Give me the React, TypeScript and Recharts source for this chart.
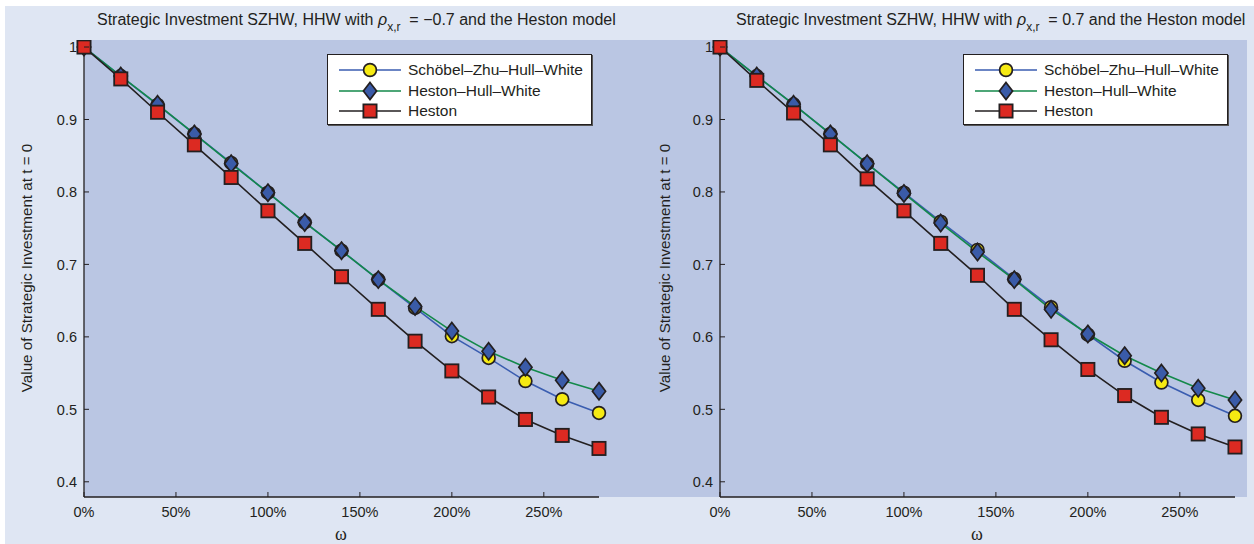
import React from 'react';
import { LineChart, Line, XAxis, YAxis, Legend } from 'recharts';

// omega values (fraction, 0..280%)
const omega = [0, 0.2, 0.4, 0.6, 0.8, 1.0, 1.2, 1.4, 1.6, 1.8, 2.0, 2.2, 2.4, 2.6, 2.8];

// rho_{x,r} = -0.7
const szhwNeg = [1.0, 0.96, 0.92, 0.88, 0.84, 0.799, 0.758, 0.719, 0.679, 0.64, 0.601, 0.571, 0.539, 0.514, 0.495];
const hhwNeg = [1.0, 0.96, 0.921, 0.88, 0.839, 0.799, 0.758, 0.719, 0.679, 0.642, 0.608, 0.58, 0.558, 0.54, 0.525];
const hestonNeg = [1.0, 0.956, 0.91, 0.865, 0.82, 0.774, 0.729, 0.683, 0.638, 0.594, 0.553, 0.517, 0.486, 0.464, 0.446];

// rho_{x,r} = 0.7
const szhwPos = [1.0, 0.96, 0.921, 0.88, 0.839, 0.799, 0.759, 0.72, 0.68, 0.641, 0.603, 0.567, 0.537, 0.513, 0.491];
const hhwPos = [1.0, 0.96, 0.921, 0.88, 0.839, 0.798, 0.757, 0.717, 0.679, 0.638, 0.604, 0.574, 0.55, 0.529, 0.513];
const hestonPos = [1.0, 0.954, 0.909, 0.865, 0.818, 0.774, 0.729, 0.685, 0.638, 0.596, 0.555, 0.519, 0.489, 0.466, 0.448];

const xTicks = [0, 0.5, 1, 1.5, 2, 2.5];
const yTicks = [0.4, 0.5, 0.6, 0.7, 0.8, 0.9, 1];
const keys = ['szhw', 'hhw', 'heston'];
const names = ['Schöbel–Zhu–Hull–White', 'Heston–Hull–White', 'Heston'];

const INK = '#231f20';
const FONT = '"Liberation Sans", Arial, Helvetica, sans-serif';
const LIGHT = '#dfe6f3';
const PLOT = '#bac6e3';

const buildRows = (a: number[], b: number[], c: number[]) =>
  omega.map((w, i) => ({ w, szhw: a[i], hhw: b[i], heston: c[i] }));

const rowsNeg = buildRows(szhwNeg, hhwNeg, hestonNeg);
const rowsPos = buildRows(szhwPos, hhwPos, hestonPos);

const styles: Record<string, { line: string; kind: string }> = {
  szhw: { line: '#3a5db0', kind: 'circle' },
  hhw: { line: '#13894a', kind: 'diamond' },
  heston: { line: INK, kind: 'square' },
};

function Marker({ kind, cx, cy }: { kind: string; cx: number; cy: number }) {
  if (kind === 'circle')
    return <circle cx={cx} cy={cy} r={6.4} fill="#f6ea12" stroke={INK} strokeWidth={1.7} />;
  if (kind === 'diamond')
    return (
      <polygon
        points={`${cx},${cy - 8.6} ${cx + 6.6},${cy} ${cx},${cy + 8.6} ${cx - 6.6},${cy}`}
        fill="#3a5ba8"
        stroke={INK}
        strokeWidth={1.7}
      />
    );
  return <rect x={cx - 6.6} y={cy - 6.6} width={13.2} height={13.2} fill="#dc2a22" stroke={INK} strokeWidth={1.8} />;
}

const YTick = ({ x, y, payload }: any) => (
  <g>
    <line x1={x} x2={x + 5} y1={y} y2={y} stroke={INK} strokeWidth={1} />
    <text x={x - 7} y={y} dy="0.36em" textAnchor="end" fontSize={14.5} fontFamily={FONT} fill={INK}>
      {payload.value === 1 ? '1' : payload.value.toFixed(1)}
    </text>
  </g>
);

const XTick = ({ x, y, payload }: any) => (
  <g>
    <line x1={x} x2={x} y1={y} y2={y - 5} stroke={INK} strokeWidth={1} />
    <text x={x} y={y + 15} dy="0.36em" textAnchor="middle" fontSize={14.5} fontFamily={FONT} fill={INK}>
      {`${Math.round(payload.value * 100)}%`}
    </text>
  </g>
);

const LegendBox = ({ payload }: any) => {
  const items = [...(payload || [])].sort((a: any, b: any) => keys.indexOf(a.dataKey) - keys.indexOf(b.dataKey));
  return (
    <div
      style={{
        width: 265,
        height: 71,
        background: '#fff',
        border: `1.5px solid ${INK}`,
        boxShadow: '1px 1px 0 #555',
        boxSizing: 'border-box',
        paddingTop: 5,
        fontFamily: FONT,
        fontSize: 15.5,
        color: INK,
      }}
    >
      {items.map((entry: any) => {
        const s = styles[entry.dataKey];
        return (
          <div key={entry.dataKey} style={{ display: 'flex', alignItems: 'center', height: 20.5 }}>
            <svg width={80} height={20} style={{ flex: 'none' }}>
              <line x1={11} x2={73} y1={10} y2={10} stroke={s.line} strokeWidth={1.6} />
              <Marker kind={s.kind} cx={42} cy={10} />
            </svg>
            <span style={{ whiteSpace: 'nowrap' }}>{entry.value}</span>
          </div>
        );
      })}
    </div>
  );
};

function Panel({ rows, left, width }: { rows: any[]; left: number; width: number }) {
  return (
    <div style={{ position: 'absolute', left, top: 0 }}>
      <LineChart width={width} height={544} data={rows} margin={{ top: 40, right: width - 599, left: 24, bottom: 0 }}>
        <XAxis
          dataKey="w"
          type="number"
          domain={[0, 2.8]}
          ticks={xTicks}
          height={47}
          tickSize={0}
          tickMargin={0}
          tickLine={false}
          tick={<XTick />}
          axisLine={{ stroke: INK, strokeWidth: 1.3 }}
          interval={0}
        />
        <YAxis
          type="number"
          domain={[0.379, 1.0097]}
          ticks={yTicks}
          width={60}
          tickSize={0}
          tickMargin={0}
          tickLine={false}
          tick={<YTick />}
          axisLine={{ stroke: INK, strokeWidth: 1.3 }}
          interval={0}
          allowDataOverflow
        />
        <Legend
          layout="vertical"
          align="center"
          verticalAlign="middle"
          wrapperStyle={{ position: 'absolute', left: 327, top: 54, width: 265 }}
          content={<LegendBox />}
        />
        {keys.map((k, i) => (
          <Line
            key={k}
            dataKey={k}
            name={names[i]}
            type="linear"
            stroke={styles[k].line}
            strokeWidth={1.6}
            isAnimationActive={false}
            dot={(p: any) => <Marker key={`${k}-${p.index}`} kind={styles[k].kind} cx={p.cx} cy={p.cy} />}
            activeDot={false}
          />
        ))}
      </LineChart>
    </div>
  );
}

const textBase: React.CSSProperties = {
  position: 'absolute',
  fontFamily: FONT,
  color: INK,
  whiteSpace: 'nowrap',
};

function Title({ left, rho }: { left: number; rho: string }) {
  return (
    <div style={{ ...textBase, left, top: 11, fontSize: 16 }}>
      Strategic Investment SZHW, HHW with <i>ρ</i>
      <sub style={{ fontSize: 12, verticalAlign: -6 }}>x,r</sub>
      {'\u00a0\u00a0'}= {rho} and the Heston model
    </div>
  );
}

function YLabel({ cx }: { cx: number }) {
  return (
    <div
      style={{
        ...textBase,
        left: cx,
        top: 268,
        fontSize: 15.2,
        transform: 'translate(-50%, -50%) rotate(-90deg)',
      }}
    >
      Value of Strategic Investment at t = 0
    </div>
  );
}

function XLabel({ cx }: { cx: number }) {
  return (
    <div
      style={{
        ...textBase,
        left: cx,
        top: 534,
        fontSize: 18,
        fontFamily: '"Liberation Serif", "DejaVu Serif", serif',
        transform: 'translate(-50%, -50%)',
      }}
    >
      ω
    </div>
  );
}

export default function App() {
  return (
    <div style={{ position: 'absolute', left: 0, top: 0, width: 1254, height: 544, background: '#fff', overflow: 'hidden' }}>
      <div style={{ position: 'absolute', left: 5, top: 6, right: 0, bottom: 0, background: LIGHT }} />
      <div style={{ position: 'absolute', left: 84, top: 40, width: 1163, height: 457, background: PLOT }} />
      <Title left={97} rho="−0.7" />
      <Title left={736} rho="0.7" />
      <YLabel cx={26} />
      <YLabel cx={664} />
      <XLabel cx={341} />
      <XLabel cx={977} />
      <Panel rows={rowsNeg} left={0} width={627} />
      <Panel rows={rowsPos} left={636} width={618} />
    </div>
  );
}
